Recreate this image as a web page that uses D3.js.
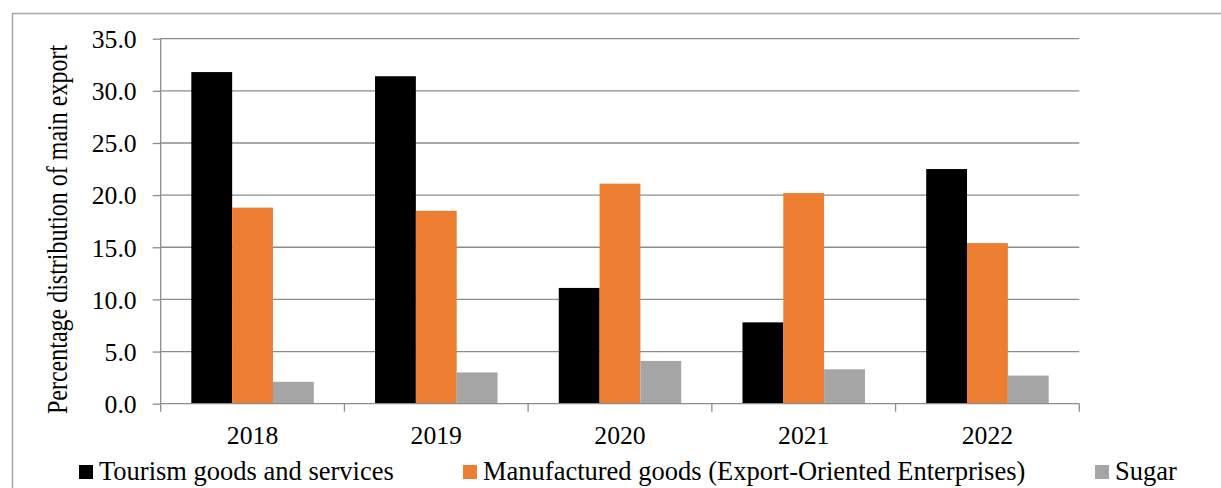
<!DOCTYPE html>
<html>
<head>
<meta charset="utf-8">
<script src="https://cdn.jsdelivr.net/npm/d3@7"></script>
<style>
  html, body { margin: 0; padding: 0; background: #fff; }
  svg { display: block; }
</style>
</head>
<body>
<svg id="chart" width="1221" height="488"></svg>
<script>
// Share of main exports by year (%)
const years = ["2018", "2019", "2020", "2021", "2022"];
const seriesNames = ["Tourism goods and services", "Manufactured goods (Export-Oriented Enterprises)", "Sugar"];
const tourism = [31.8, 31.4, 11.1, 7.8, 22.5];
const manufactured = [18.8, 18.5, 21.1, 20.2, 15.4];
const sugar = [2.1, 3.0, 4.1, 3.3, 2.7];
const yTicks = [0, 5, 10, 15, 20, 25, 30, 35];
const colors = ["#000000", "#ED7D31", "#A5A5A5"];

const seriesValues = [tourism, manufactured, sugar];
const FONT = "'Liberation Serif', 'Times New Roman', serif";

const svg = d3.select("#chart");
const W = 1221, H = 488;
const plot = { left: 160.7, right: 1079.3, top: 38.7, bottom: 403.7 };
const gridColor = "#8c8c8c";

// outer frame
svg.append("rect")
  .attr("x", 12.5).attr("y", 13.5)
  .attr("width", W + 10).attr("height", H + 10)
  .attr("fill", "none").attr("stroke", "#a6a6a6").attr("stroke-width", 1.5);

const y = d3.scaleLinear().domain([0, 35]).range([plot.bottom, plot.top]);
const x0 = d3.scaleBand().domain(years).range([plot.left, plot.right]).padding(0);
const x1 = d3.scaleBand().domain(d3.range(seriesNames.length))
  .range([x0.bandwidth() / 6, x0.bandwidth() * 5 / 6]).padding(0);

// horizontal gridlines
svg.append("g")
  .selectAll("line").data(yTicks.filter(d => d > 0)).join("line")
  .attr("x1", plot.left).attr("x2", plot.right)
  .attr("y1", d => y(d)).attr("y2", d => y(d))
  .attr("stroke", gridColor).attr("stroke-width", 1.3);

// bars
const groups = svg.append("g").selectAll("g").data(years).join("g")
  .attr("transform", d => `translate(${x0(d)},0)`);
groups.selectAll("rect")
  .data((yr, i) => seriesValues.map((vals, s) => ({ s, v: vals[i] })))
  .join("rect")
  .attr("x", d => x1(d.s))
  .attr("width", x1.bandwidth())
  .attr("y", d => y(d.v))
  .attr("height", d => y(0) - y(d.v))
  .attr("fill", d => colors[d.s]);

// y axis
const yAxis = d3.axisLeft(y).tickValues(yTicks).tickFormat(d3.format(".1f")).tickSize(8).tickPadding(16);
const gy = svg.append("g").attr("transform", `translate(${plot.left},0)`).call(yAxis);
gy.select(".domain").attr("stroke", gridColor).attr("stroke-width", 1.3).attr("d", `M0,${plot.top}V${plot.bottom}`);
gy.selectAll(".tick line").attr("stroke", gridColor).attr("stroke-width", 1.3);
gy.selectAll(".tick text")
  .style("font-size", "25.7px").style("font-family", FONT).attr("fill", "#000")
  .attr("dy", "0.34em");

// x axis: baseline, boundary ticks, year labels
const gx = svg.append("g");
gx.append("line")
  .attr("x1", plot.left).attr("x2", plot.right)
  .attr("y1", plot.bottom).attr("y2", plot.bottom)
  .attr("stroke", gridColor).attr("stroke-width", 1.3);
const bounds = years.map(d => x0(d)).concat([x0(years[years.length - 1]) + x0.bandwidth()]);
gx.selectAll("line.b").data(bounds).join("line").attr("class", "b")
  .attr("x1", d => d).attr("x2", d => d)
  .attr("y1", plot.bottom).attr("y2", plot.bottom + 8)
  .attr("stroke", gridColor).attr("stroke-width", 1.3);
gx.selectAll("text").data(years).join("text")
  .attr("x", d => x0(d) + x0.bandwidth() / 2)
  .attr("y", 443.5)
  .attr("text-anchor", "middle")
  .style("font-family", FONT)
  .style("font-size", "25.7px")
  .attr("fill", "#000")
  .text(d => d);

// y axis title (glyphs drawn slightly tall)
svg.append("text")
  .attr("transform", `translate(66.5,229.5) rotate(-90) scale(1,1.2)`)
  .attr("text-anchor", "middle")
  .style("font-family", FONT)
  .style("font-size", "24px")
  .attr("fill", "#000")
  .text("Percentage distribution of main export");

// legend
const legendX = [79, 463, 1095];
const lg = svg.append("g").selectAll("g").data(seriesNames).join("g")
  .attr("transform", (d, i) => `translate(${legendX[i]},0)`);
lg.append("rect").attr("x", 0).attr("y", 465).attr("width", 14).attr("height", 14)
  .attr("fill", (d, i) => colors[i]);
lg.append("text").attr("x", 20).attr("y", 480)
  .style("font-family", FONT).style("font-size", "26.5px").attr("fill", "#000")
  .text(d => d);
</script>
</body>
</html>
